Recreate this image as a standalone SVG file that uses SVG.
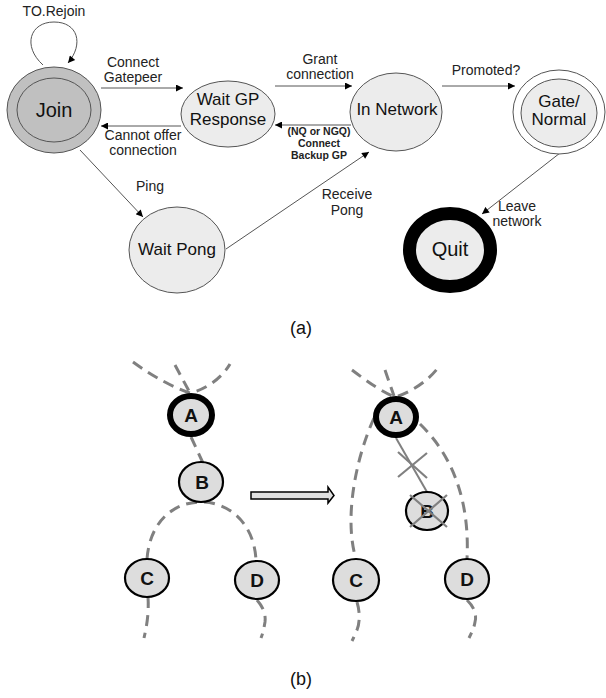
<svg xmlns="http://www.w3.org/2000/svg" width="606" height="698" viewBox="0 0 606 698">
<style>
.lbl{font-family:"Liberation Sans",Arial,sans-serif;font-size:14px;fill:#222;text-anchor:middle}
.bl{font-family:"Liberation Sans",Arial,sans-serif;font-size:10.5px;font-weight:bold;fill:#222;text-anchor:middle}
.nt{font-family:"Liberation Sans",Arial,sans-serif;font-size:17px;fill:#111;text-anchor:middle}
.big{font-family:"Liberation Sans",Arial,sans-serif;font-size:20px;fill:#111;text-anchor:middle}
.cap{font-family:"Liberation Sans",Arial,sans-serif;font-size:18px;fill:#111;text-anchor:middle}
.tl{font-family:"Liberation Sans",Arial,sans-serif;font-size:19px;font-weight:bold;fill:#111;text-anchor:middle}
.st{fill:#ececec;stroke:#555;stroke-width:1}
.con{fill:none;stroke:#555;stroke-width:1}
.dash{fill:none;stroke:#808080;stroke-width:3;stroke-dasharray:11 7}
.tn{fill:#dddddd;stroke:#000;stroke-width:2.2}
.tnA{fill:#dddddd;stroke:#000;stroke-width:6}
.x{stroke:#808080;stroke-width:2.2;fill:none}
</style>
<defs>
<marker id="ah" viewBox="0 0 10 10" refX="10" refY="5" markerWidth="9" markerHeight="7" markerUnits="userSpaceOnUse" orient="auto">
<path d="M0,0 L10,5 L0,10 z" fill="#000"/>
</marker>
</defs>

<g id="connectors">
<path class="con" d="M43,65 C22,46 30,22 54,22 C78,22 84,44 68,63" marker-end="url(#ah)"/>
<line class="con" x1="101" y1="88" x2="183" y2="88" marker-end="url(#ah)"/>
<line class="con" x1="181" y1="126" x2="101" y2="126" marker-end="url(#ah)"/>
<line class="con" x1="275" y1="86" x2="352" y2="86" marker-end="url(#ah)"/>
<line class="con" x1="351" y1="125" x2="275" y2="125" marker-end="url(#ah)"/>
<line class="con" x1="442" y1="86" x2="515" y2="86" marker-end="url(#ah)"/>
<line class="con" x1="80" y1="150" x2="143" y2="217" marker-end="url(#ah)"/>
<line class="con" x1="226" y1="249" x2="369" y2="152" marker-end="url(#ah)"/>
<line class="con" x1="560" y1="153" x2="482" y2="214" marker-end="url(#ah)"/>
</g>

<g id="labels">
<text class="lbl" x="54" y="16">TO.Rejoin</text>
<text class="lbl" x="133" y="67">Connect</text>
<text class="lbl" x="133" y="82">Gatepeer</text>
<text class="lbl" x="143" y="140">Cannot offer</text>
<text class="lbl" x="143" y="155">connection</text>
<text class="lbl" x="320" y="64">Grant</text>
<text class="lbl" x="320" y="79">connection</text>
<text class="bl" x="319" y="135">(NQ or NGQ)</text>
<text class="bl" x="319" y="147">Connect</text>
<text class="bl" x="319" y="159">Backup GP</text>
<text class="lbl" x="486" y="75">Promoted?</text>
<text class="lbl" x="150" y="191">Ping</text>
<text class="lbl" x="347" y="199">Receive</text>
<text class="lbl" x="347" y="215">Pong</text>
<text class="lbl" x="517" y="211">Leave</text>
<text class="lbl" x="517" y="226">network</text>
<text class="cap" x="301" y="334">(a)</text>
<text class="cap" x="301" y="685">(b)</text>
</g>

<g id="join">
<ellipse cx="54" cy="110" rx="47" ry="43" fill="#c0c0c0" stroke="#555" stroke-width="1"/>
<ellipse cx="54" cy="110" rx="37" ry="32" fill="#c0c0c0" stroke="#555" stroke-width="1"/>
<text class="big" x="54" y="117">Join</text>
</g>
<g id="waitgp">
<ellipse class="st" cx="228" cy="114" rx="47" ry="33"/>
<text class="nt" x="228" y="105">Wait GP</text>
<text class="nt" x="228" y="125">Response</text>
</g>
<g id="innetwork">
<ellipse class="st" cx="396" cy="112" rx="46" ry="39"/>
<text class="nt" x="397" y="115">In Network</text>
</g>
<g id="gate">
<ellipse cx="559" cy="112" rx="46" ry="42" fill="#fff" stroke="#555" stroke-width="1"/>
<ellipse class="st" cx="559" cy="113" rx="38" ry="34"/>
<text class="nt" x="559" y="107">Gate/</text>
<text class="nt" x="559" y="125">Normal</text>
</g>
<g id="waitpong">
<ellipse class="st" cx="177" cy="250" rx="48" ry="43"/>
<text class="nt" x="177" y="255">Wait Pong</text>
</g>
<g id="quit">
<ellipse cx="450" cy="250" rx="40.5" ry="36.5" fill="#ececec" stroke="#000" stroke-width="13"/>
<text class="big" x="450" y="256">Quit</text>
</g>

<g id="tree-left-edges">
<path class="dash" d="M133,362 C155,378 175,388 190,393 C205,390 222,378 230,364"/>
<path class="dash" d="M175,365 L190,393"/>
<path class="dash" d="M191,437 L203,463"/>
<path class="dash" d="M147,559 C150,520 175,502 201,502 C228,502 254,522 256,560"/>
<path class="dash" d="M148,597 C149,612 147,625 144,638"/>
<path class="dash" d="M257,600 C263,607 266,614 265,622 C264,628 263,633 261,638"/>
</g>
<g id="tree-right-edges">
<path class="dash" d="M352,370 C368,382 382,392 395,397 C410,393 430,380 440,365"/>
<path class="dash" d="M385,370 L394,396"/>
<path class="dash" d="M374,418 C355,460 344,520 356,559"/>
<path class="dash" d="M420,424 C452,455 470,500 467,559"/>
<path class="dash" d="M357,602 C360,612 360,622 357,630 C355,634 354,637 352,641"/>
<path class="dash" d="M467,600 C474,607 477,614 475,622 C474,628 472,632 469,638"/>
<line x1="396" y1="438" x2="427" y2="492" stroke="#808080" stroke-width="2"/>
<line class="x" x1="398" y1="452" x2="427" y2="478"/>
<line class="x" x1="427" y1="453" x2="398" y2="477"/>
</g>

<g id="block-arrow">
<path d="M251,492 L328,492 L328,487 L334,495.5 L328,503 L328,499 L251,499 Z" fill="#e0e0e0" stroke="#000" stroke-width="1.5"/>
</g>

<g id="A1"><ellipse class="tnA" cx="191" cy="415" rx="21" ry="19"/><text class="tl" x="191" y="422">A</text></g>
<g id="B1"><ellipse class="tn" cx="201" cy="482" rx="22" ry="20"/><text class="tl" x="202" y="489">B</text></g>
<g id="C1"><ellipse class="tn" cx="147" cy="578" rx="22" ry="19"/><text class="tl" x="147" y="585">C</text></g>
<g id="D1"><ellipse class="tn" cx="257" cy="580" rx="22" ry="19"/><text class="tl" x="257" y="587">D</text></g>

<g id="A2"><ellipse class="tnA" cx="396" cy="417" rx="20" ry="18"/><text class="tl" x="396" y="424">A</text></g>
<g id="B2"><ellipse class="tn" cx="427" cy="511" rx="21" ry="19"/><text class="tl" x="427" y="518">B</text>
<line class="x" x1="410" y1="495" x2="447" y2="527"/><line class="x" x1="447" y1="495" x2="410" y2="527"/></g>
<g id="C2"><ellipse class="tn" cx="356" cy="580" rx="23" ry="21"/><text class="tl" x="356" y="587">C</text></g>
<g id="D2"><ellipse class="tn" cx="467" cy="579" rx="22" ry="20"/><text class="tl" x="467" y="586">D</text></g>
</svg>
